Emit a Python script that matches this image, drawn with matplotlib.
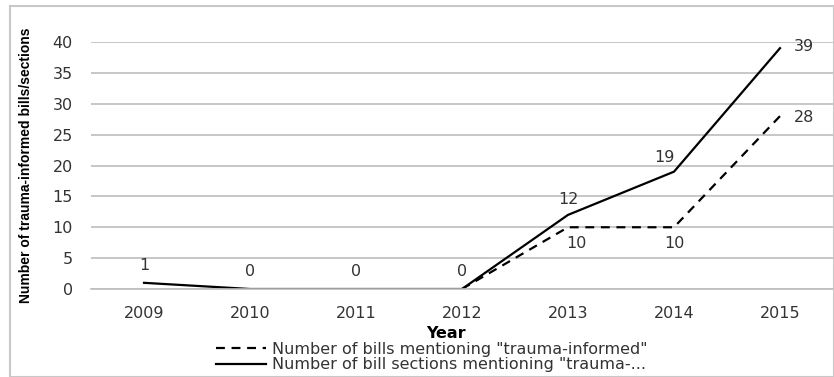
import matplotlib
matplotlib.use("Agg")
import matplotlib.pyplot as plt
import numpy as np
from matplotlib.patches import Rectangle

years = ["2009", "2010", "2011", "2012", "2013", "2014", "2015"]
bills = [np.nan, np.nan, np.nan, 0, 10, 10, 28]
sections = [1, 0, 0, 0, 12, 19, 39]
yticks = [0, 5, 10, 15, 20, 25, 30, 35, 40]

plt.rcParams['font.family'] = ['DejaVu Sans']
fig = plt.figure(figsize=(8.34, 3.77), dpi=100)
W, H = 834, 377
ax = fig.add_axes([91 / W, 1 - 289 / H, (833 - 91) / W, (289 - 42) / H])

x = np.arange(len(years))
ax.plot(x, sections, color='black', lw=1.6, label='Number of bill sections mentioning "trauma-...')
ax.plot(x, bills, color='black', lw=1.6, ls=(0, (4, 3)), label='Number of bills mentioning "trauma-informed"')

ax.set_xlim(-0.5, len(years) - 0.5)
ax.set_ylim(0, 40)
ax.set_yticks(yticks)
ax.set_xticks(x)
ax.set_xticklabels(years)
ax.grid(axis='y', color='#bdbdbd', lw=1.2)
ax.set_axisbelow(True)
for s in ['top', 'right', 'left']:
    ax.spines[s].set_visible(False)
ax.spines['bottom'].set_color('#bdbdbd')
ax.spines['bottom'].set_linewidth(1.2)
ax.tick_params(length=0, labelsize=11.5, colors='#333333', pad=13)
ax.tick_params(axis='x', pad=12)

fs = 11.5
offs_s = [(0, 7), (0, 7), (0, 7), (0, 7), (0, 6), (-7, 5), (17, 1)]
for i, v in enumerate(sections):
    ax.annotate(str(v), (x[i], v), xytext=offs_s[i], textcoords='offset points',
                ha='center', va='bottom' if i < 6 else 'center', fontsize=fs, color='#333333')
offs_b = {4: (6, -6), 5: (0, -6), 6: (17, -1)}
for i, (dx, dy) in offs_b.items():
    ax.annotate(str(bills[i]), (x[i], bills[i]), xytext=(dx, dy), textcoords='offset points',
                ha='center', va='top' if i < 6 else 'center', fontsize=fs, color='#333333')

ax.set_ylabel('Number of trauma-informed bills/sections', fontsize=10, fontweight='bold',
              family=['Liberation Sans Narrow', 'Liberation Sans', 'DejaVu Sans'])
ax.yaxis.set_label_coords((33 - 91) / (833 - 91), 0.5)
fig.text(446 / W, 1 - 333 / H, 'Year', ha='center', va='center', fontsize=11.5, fontweight='bold')

h, l = ax.get_legend_handles_labels()
leg = fig.legend([h[1], h[0]], [l[1], l[0]], loc='center left', bbox_to_anchor=(208 / W, 1 - 357 / H),
                 frameon=False, fontsize=11.5, handlelength=3.1, labelspacing=0.05, borderpad=0,
                 handletextpad=0.4, labelcolor='#333333')

fig.patches.append(Rectangle((10 / W, 0), (W - 10) / W, 1 - 6 / H, transform=fig.transFigure,
                             fill=False, edgecolor='#c8c8c8', lw=1.5))
fig.savefig('out.png', dpi=100)
